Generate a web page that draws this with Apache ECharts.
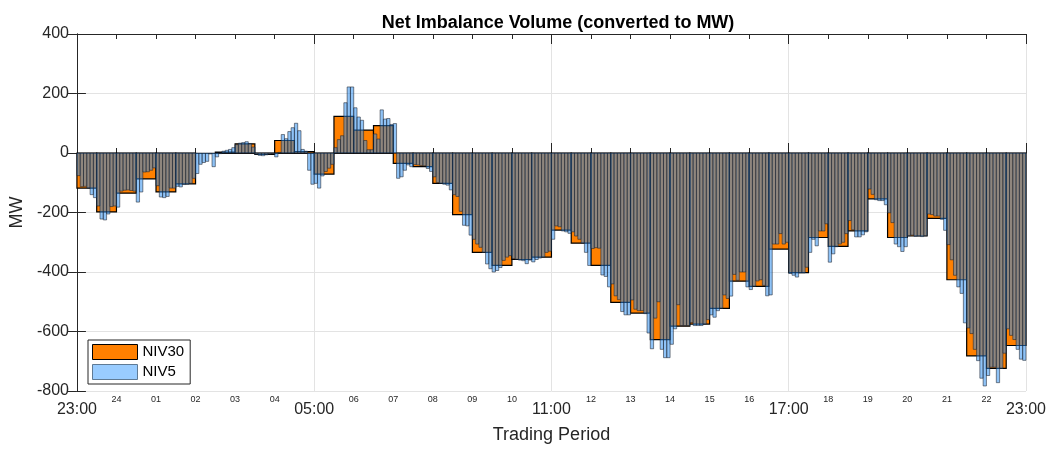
<!DOCTYPE html>
<html>
<head>
<meta charset="utf-8">
<title>Net Imbalance Volume</title>
<script src="https://cdn.jsdelivr.net/npm/echarts@6.0.0/dist/echarts.min.js"></script>
<style>
  html, body { margin: 0; padding: 0; background: #fff; }
  #chart { width: 1049px; height: 449px; }
</style>
</head>
<body>
<div id="chart"></div>
<script>
// half-hour NIV (MW), one value per trading period starting 23:00 (null = not published)
var niv30 = [
  -118, -198, -135, -87, -131, -104, null, 3, 31, -5, 42, 5,
  -71, 123, 77, 92, -35, -46, -102, -207, -334, -378, -358, -350,
  -259, -303, -378, -502, -538, -627, -582, -575, -522, -431, -448, -323,
  -402, -284, -314, -262, -154, -284, -279, -220, -426, -682, -724, -647
];

// five-minute NIV (MW), six per trading period
var niv5 = [
  -76, -113, -112, -118, -140, -150,
  -178, -222, -225, -205, -180, -178,
  -182, -128, -125, -124, -126, -128,
  -165, -131, -64, -63, -58, -50,
  -110, -148, -150, -146, -118, -118,
  -112, -114, -106, -105, -102, -85,
  -69, -38, -32, -28, -3, -46,
  -13, -2, 6, 9, 12, 18,
  28, 33, 35, 38, 32, 20,
  -4, -8, -9, -6, -3, -2,
  -13, 2, 62, 48, 72, 85,
  100, 75, 12, 6, -58, -105,
  -102, -118, -77, -62, -51, -38,
  18, 45, 58, 169, 222, 222,
  152, 121, 110, 42, 11, 11,
  64, 47, 145, 114, 116, 96,
  99, -85, -80, -58, -40, -46,
  -39, -40, -42, -43, -52, -62,
  -80, -99, -102, -105, -108, -124,
  -140, -146, -196, -243, -245, -276,
  -290, -306, -317, -334, -373, -389,
  -400, -395, -385, -361, -350, -345,
  -355, -357, -360, -362, -372, -360,
  -366, -358, -353, -350, -334, -330,
  -290, -245, -248, -262, -265, -270,
  -265, -279, -290, -303, -334, -378,
  -321, -318, -320, -410, -415, -450,
  -440, -480, -493, -533, -544, -544,
  -494, -525, -530, -530, -540, -605,
  -658, -555, -500, -660, -688, -688,
  -643, -591, -510, -580, -580, -580,
  -570, -580, -580, -580, -575, -560,
  -544, -552, -530, -522, -477, -489,
  -481, -408, -428, -400, -400, -450,
  -459, -448, -430, -426, -445, -480,
  -477, -306, -306, -271, -306, -300,
  -405, -411, -417, -403, -403, -384,
  -334, -290, -312, -262, -262, -238,
  -367, -339, -315, -306, -300, -271,
  -227, -258, -282, -282, -275, -265,
  -121, -139, -157, -160, -160, -174,
  -201, -234, -306, -315, -331, -315,
  -278, -276, -280, -279, -281, -278,
  -205, -207, -212, -212, -223, -260,
  -308, -359, -411, -450, -472, -571,
  -588, -607, -660, -698, -757, -783,
  -748, -720, -720, -772, -724, -673,
  -591, -613, -627, -660, -693, -697
];

// x tick labels, one per hour from 23:00 to 23:00
var hourLabels = [
  '23:00', '24', '01', '02', '03', '04', '05:00', '06', '07', '08', '09', '10',
  '11:00', '12', '13', '14', '15', '16', '17:00', '18', '19', '20', '21', '22', '23:00'
];
var yTicks = [-800, -600, -400, -200, 0, 200, 400];

var TEXT = '#262626';
var FONT = '"Liberation Sans", Arial, Helvetica, sans-serif';

function rectItem(fill, stroke, lw) {
  return function (params, api) {
    var v = api.value(2);
    if (v == null || isNaN(v)) return null;
    var a = api.coord([api.value(0), v]);
    var b = api.coord([api.value(1), 0]);
    return {
      type: 'rect',
      shape: {
        x: a[0],
        y: Math.min(a[1], b[1]),
        width: b[0] - a[0],
        height: Math.abs(b[1] - a[1])
      },
      style: { fill: fill, stroke: stroke, lineWidth: lw }
    };
  };
}

var myChart = echarts.init(document.getElementById('chart'));

var option = {
  animation: false,
  backgroundColor: '#fff',
  textStyle: { fontFamily: FONT, color: TEXT },
  title: {
    text: 'Net Imbalance Volume (converted to MW)',
    left: 553,
    textAlign: 'center',
    top: 9,
    textStyle: { fontFamily: FONT, fontSize: 18, fontWeight: 'bold', color: '#000' }
  },
  grid: { left: 76, right: 21, top: 34, bottom: 54 },
  legend: {
    left: 88,
    top: 340,
    orient: 'vertical',
    selectedMode: false,
    itemWidth: 45,
    itemHeight: 15,
    itemGap: 4,
    padding: [4, 6, 4, 4],
    backgroundColor: '#fff',
    borderColor: TEXT,
    borderWidth: 1,
    borderRadius: 0,
    textStyle: { fontFamily: FONT, fontSize: 15, color: '#000' },
    data: [
      { name: 'NIV30', icon: 'rect', itemStyle: { color: '#ff8000', borderColor: '#000', borderWidth: 1 } },
      { name: 'NIV5', icon: 'rect', itemStyle: { color: '#99ccff', borderColor: '#5f7a94', borderWidth: 1 } }
    ]
  },
  xAxis: [
    {
      type: 'value', position: 'bottom', min: 0, max: 1440, interval: 360,
      name: 'Trading Period', nameLocation: 'middle', nameGap: 35,
      nameTextStyle: { fontFamily: FONT, fontSize: 18, color: TEXT },
      axisLine: { show: true, lineStyle: { color: TEXT, width: 1 } },
      axisTick: { show: true, inside: true, length: 10, lineStyle: { color: TEXT } },
      minorTick: { show: true, splitNumber: 6, length: 5, lineStyle: { color: TEXT } },
      splitLine: { show: true, lineStyle: { color: '#e3e3e3', width: 1 } },
      axisLabel: {
        margin: 11, fontSize: 16, color: TEXT, fontFamily: FONT,
        formatter: function (v) { return hourLabels[Math.round(v / 60)]; }
      }
    },
    {
      type: 'value', position: 'bottom', min: 0, max: 1440, interval: 60,
      axisLine: { show: false }, axisTick: { show: false }, splitLine: { show: false },
      axisLabel: {
        margin: 4, fontSize: 9, color: TEXT, fontFamily: FONT,
        formatter: function (v) { return v % 360 === 0 ? '' : hourLabels[Math.round(v / 60)]; }
      }
    },
    {
      type: 'value', position: 'top', min: 0, max: 1440, interval: 360,
      axisLine: { show: true, lineStyle: { color: TEXT, width: 1 } },
      axisTick: { show: true, inside: true, length: 10, lineStyle: { color: TEXT } },
      minorTick: { show: true, splitNumber: 6, length: 5, lineStyle: { color: TEXT } },
      splitLine: { show: false },
      axisLabel: { show: false }
    }
  ],
  yAxis: [
    {
      type: 'value', position: 'left', min: yTicks[0], max: yTicks[yTicks.length - 1], interval: 200,
      name: 'MW', nameLocation: 'middle', nameGap: 48,
      nameTextStyle: { fontFamily: FONT, fontSize: 18, color: TEXT },
      axisLine: { show: true, lineStyle: { color: TEXT, width: 1 } },
      axisTick: { show: true, inside: true, length: 9, lineStyle: { color: TEXT } },
      splitLine: { show: true, lineStyle: { color: '#e3e3e3', width: 1 } },
      axisLabel: { margin: 8, fontSize: 16, color: TEXT, fontFamily: FONT }
    },
    {
      type: 'value', position: 'right', min: yTicks[0], max: yTicks[yTicks.length - 1], interval: 200,
      axisLine: { show: true, lineStyle: { color: TEXT, width: 1 } },
      axisTick: { show: true, inside: true, length: 9, lineStyle: { color: TEXT } },
      splitLine: { show: false },
      axisLabel: { show: false }
    }
  ],
  series: [
    {
      name: 'NIV30',
      type: 'custom',
      xAxisIndex: 0,
      yAxisIndex: 0,
      clip: true,
      itemStyle: { color: '#ff8000' },
      renderItem: rectItem('#ff8000', '#000', 1.2),
      encode: { x: [0, 1], y: 2 },
      data: niv30.map(function (v, i) { return [i * 30, (i + 1) * 30, v]; }),
      z: 2
    },
    {
      name: 'NIV5',
      type: 'custom',
      xAxisIndex: 0,
      yAxisIndex: 0,
      clip: true,
      itemStyle: { color: '#99ccff' },
      renderItem: rectItem('rgba(40,140,240,0.52)', 'rgba(30,35,45,0.55)', 1),
      encode: { x: [0, 1], y: 2 },
      data: niv5.map(function (v, i) { return [i * 5, (i + 1) * 5, v]; }),
      z: 3
    }
  ]
};

myChart.setOption(option);
window.addEventListener('resize', function () {
  myChart.resize();
});
</script>
</body>
</html>
